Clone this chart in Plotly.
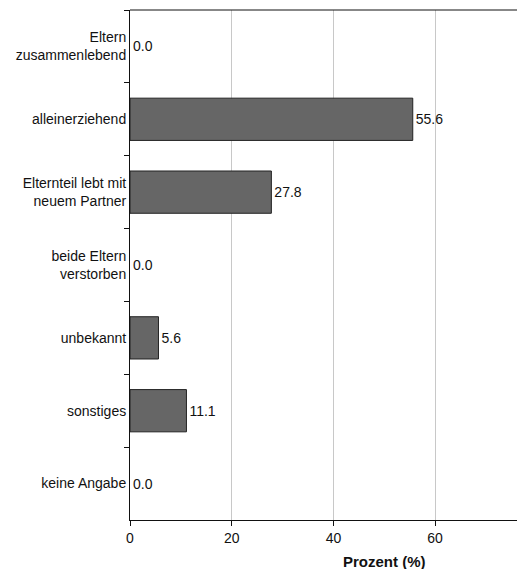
import plotly.graph_objects as go

categories = ["Eltern<br>zusammenlebend", "alleinerziehend", "Elternteil lebt mit<br>neuem Partner",
              "beide Eltern<br>verstorben", "unbekannt", "sonstiges", "keine Angabe"]
values = [0.0, 55.6, 27.8, 0.0, 5.6, 11.1, 0.0]
x_ticks = [0, 20, 40, 60]
x_title = "Prozent (%)"

font = "Liberation Sans, Arial, sans-serif"

fig = go.Figure(go.Bar(
    y=categories, x=values, orientation="h",
    marker=dict(color="#666666",
                line=dict(color="#222222", width=[1 if v > 0 else 0 for v in values])),
    width=0.58,
    text=[f"{v:.1f}" for v in values], textposition="outside",
    textfont=dict(family=font, size=14, color="#111111"),
    cliponaxis=False,
))

fig.update_layout(
    width=517, height=569,
    margin=dict(l=130, r=0, t=10, b=49),
    plot_bgcolor="white", paper_bgcolor="white",
    font=dict(family=font, size=14, color="#111111"),
    showlegend=False,
    xaxis=dict(range=[0, 76.1], tickvals=x_ticks, showgrid=True, gridcolor="#c8c8c8",
               gridwidth=1, showline=True, linecolor="#111111", linewidth=1,
               ticks="outside", ticklen=5, tickcolor="#111111", zeroline=False,
               tickfont=dict(size=14)),
    yaxis=dict(categoryorder="array", categoryarray=categories, autorange="reversed",
               showgrid=False, showline=True, linecolor="#111111", linewidth=1,
               ticks="outside", ticklen=5, tickcolor="#111111", tickson="boundaries",
               tickfont=dict(size=14), zeroline=False),
    shapes=[dict(type="line", xref="paper", yref="paper", x0=0, x1=1, y0=1, y1=1,
                 line=dict(color="#111111", width=1))],
    annotations=[dict(text="<b>" + x_title + "</b>", xref="paper", yref="paper",
                      x=(384 - 130) / 387, y=-0.082, xanchor="center", yanchor="middle",
                      showarrow=False, font=dict(size=15, family=font))],
)

fig.write_html("out.html")
